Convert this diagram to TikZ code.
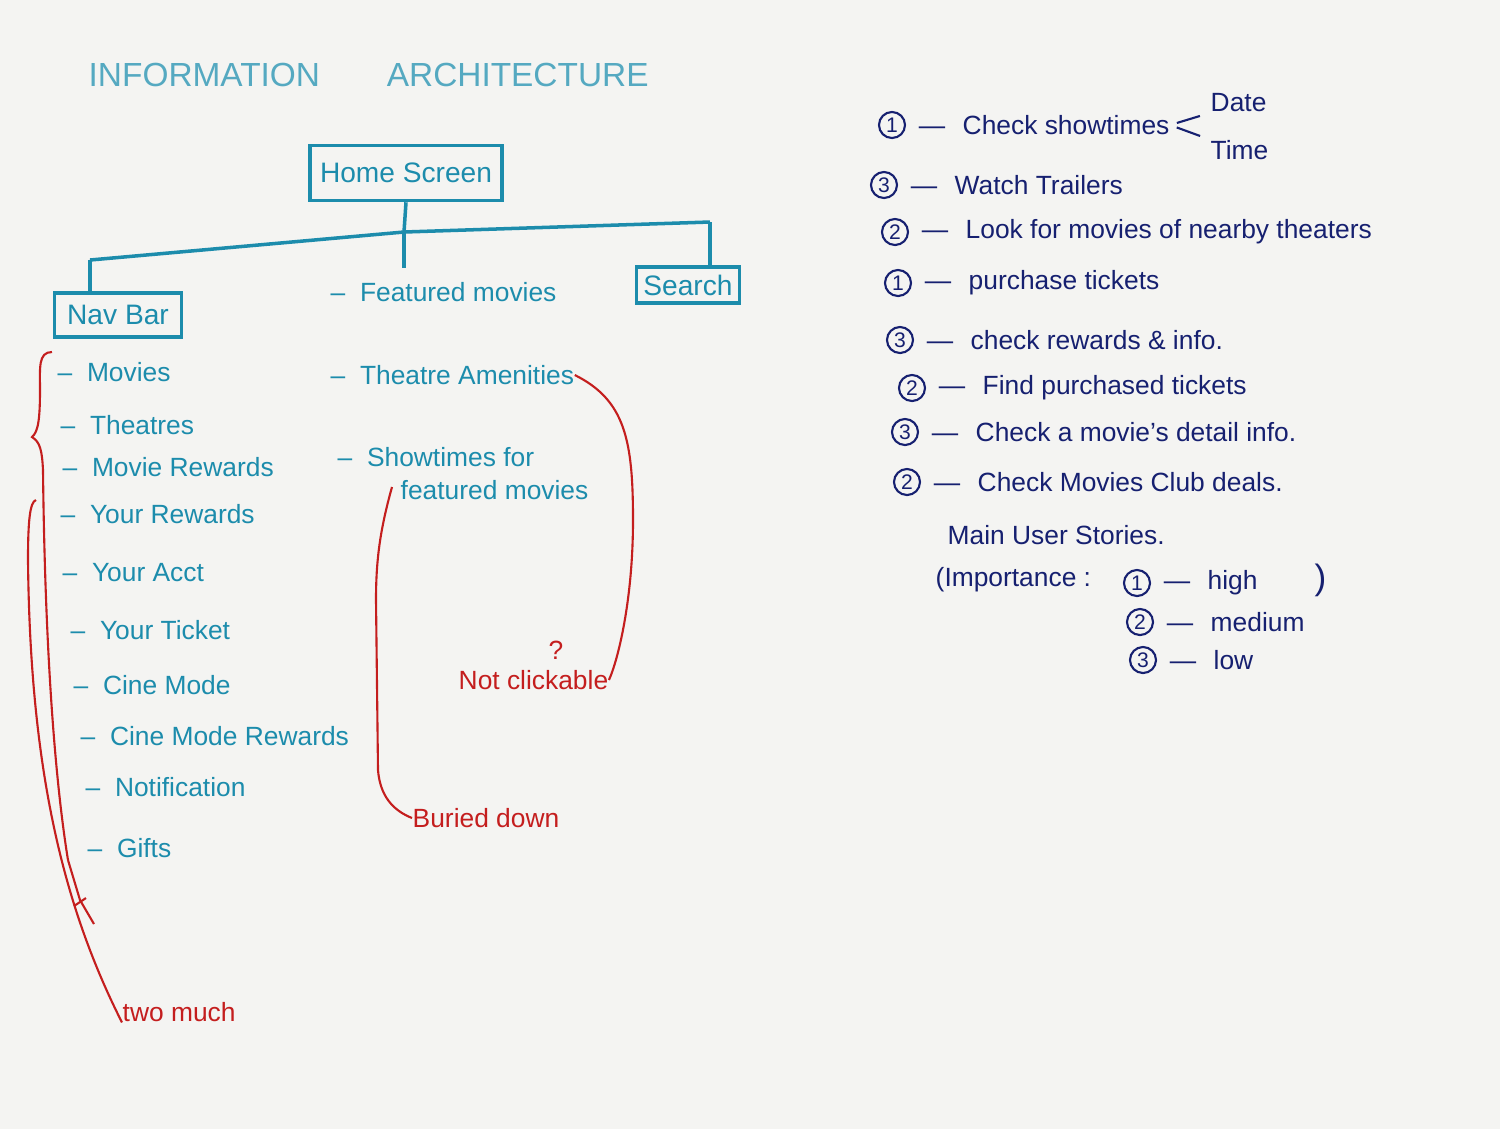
\documentclass[tikz,border=0pt]{standalone}
\usepackage{fontspec}
\setmainfont{Liberation Sans}
\usetikzlibrary{positioning}
\definecolor{inkteal}{RGB}{28,140,172}
\definecolor{inkred}{RGB}{196,30,30}
\definecolor{inknavy}{RGB}{22,32,112}
\definecolor{paperbg}{RGB}{244,244,242}

\begin{document}
\begin{tikzpicture}[x=0.01cm, y=-0.01cm,
    box/.style={draw=inkteal, line width=1pt, text=inkteal, inner sep=0pt, font=\fontsize{8}{9}\selectfont},
    item/.style={anchor=west, inner sep=0pt, text=inkteal, font=\fontsize{7.5}{9}\selectfont},
    remark/.style={anchor=west, inner sep=0pt, text=inkred, font=\fontsize{7.5}{9}\selectfont},
    num/.style={circle, draw=inknavy, line width=0.6pt, text=inknavy, inner sep=0pt, minimum size=0.26cm, font=\fontsize{6}{6}\selectfont},
    story/.style={anchor=west, inner sep=0pt, text=inknavy, font=\fontsize{7.5}{9}\selectfont},
    treeline/.style={inkteal, line width=1pt},
    redline/.style={inkred, line width=0.6pt},
    navyline/.style={inknavy, line width=0.6pt}]
\fill[paperbg] (0,0) rectangle (1500,1129);

% title
\node[anchor=west, inner sep=0pt, text=inkteal!75, font=\fontsize{9.5}{10}\selectfont] (title) at (88,75) {INFORMATION\hspace{19pt}ARCHITECTURE};

% tree
\node[box, minimum width=1.92cm, minimum height=0.55cm] (home) at (406,173) {Home Screen};
\node[box, minimum width=1.27cm, minimum height=0.44cm] (navbar) at (118,315) {Nav Bar};
\node[box, minimum width=1.03cm, minimum height=0.36cm] (search) at (688,285) {Search};
\node[item] (feat) at (330,292) {--~~Featured movies};
\coordinate (barL) at (90,260);
\coordinate (barM) at (404,232);
\coordinate (barR) at (710,222);
\draw[treeline] (home.south) -- (barM);
\draw[treeline, shorten >=4pt] (barM) -- (barM |- feat.north);
\draw[treeline] (barL) -- (barM) -- (barR);
\draw[treeline] (barL) -- (barL |- navbar.north);
\draw[treeline] (barR) -- (barR |- search.north);

% nav bar items
\foreach \x/\y/\t/\n in {57/372/Movies/movies, 60/425/Theatres/theatres, 62/467/Movie Rewards/mrewards,
    60/514/Your Rewards/yrewards, 62/573/Your Acct/acct, 70/630/Your Ticket/ticket, 73/685/Cine Mode/cine,
    80/736/Cine Mode Rewards/crewards, 85/787/Notification/notif, 87/848/Gifts/gifts}
  \node[item] (\n) at (\x,\y) {--~~\t};

% featured items
\node[item] (amen) at (330,375) {--~~Theatre Amenities};
\node[item] (show) at (337,457) {--~~Showtimes for};
\node[item] (show2) at (400,490) {featured movies};

% red remarks
\node[remark] (much) at (122,1012) {two much};
\node[remark] (notclick) at (458,680) {Not clickable};
\node[remark] (quest) at (548,650) {?};
\node[remark] (buried) at (412,818) {Buried down};
\coordinate (braceTop) at (52,352);
\coordinate (longTop) at (36,500);
\coordinate (scrib) at (68,860);
\coordinate (buryTop) at (392,487);
\draw[redline] (braceTop) .. controls (38,352) and (40,368) .. (40,390)
  .. controls (40,420) and (38,432) .. (32,437)
  .. controls (40,442) and (42,450) .. (43,470)
  .. controls (45,650) and (55,780) .. (scrib);
\draw[redline] (scrib) -- (80,900) -- (94,924);
\draw[redline] (74,906) -- (86,898);
\draw[redline] (longTop) .. controls (30,502) and (28,520) .. (28,560)
  .. controls (30,760) and (60,900) .. (much.south west);
\draw[redline] (amen.east) .. controls (625,400) and (633,440) .. (633,520)
  .. controls (633,600) and (618,660) .. (notclick.east);
\draw[redline] (buryTop) .. controls (380,530) and (376,560) .. (376,600) -- (378,770)
  .. controls (380,795) and (392,810) .. (buried.west);

% user stories
\foreach \cx/\cy/\k/\t/\n in {892/125/1/Check showtimes/s1, 884/185/3/Watch Trailers/s2,
    895/232/2/Look for movies of nearby theaters/s3, 898/283/1/purchase tickets/s4,
    900/340/3/check rewards \& info./s5, 912/388/2/Find purchased tickets/s6,
    905/432/3/Check a movie's detail info./s7, 907/482/2/Check Movies Club deals./s8}
{
  \node[num] (\n n) at (\cx,\cy) {\k};
  \node[story, right=0.12cm of \n n] (\n) {\textemdash\hspace{5pt}\t};
}
\node[story] (date) at (1210,103) {Date};
\node[story] (time) at (1210,150) {Time};
\draw[navyline, shorten <=2pt, shorten >=3pt] (s1.east) -- (date.south west);
\draw[navyline, shorten <=2pt, shorten >=3pt] (s1.east) -- (time.north west);

% legend
\node[story] (mus) at (947,535) {Main User Stories.};
\node[story] (imp) at (935,580) {(Importance :};
\node[num] (l1) at (1137,583) {1};
\node[story, right=0.12cm of l1] (high) {\textemdash\hspace{5pt}high};
\node[story, font=\fontsize{10}{10}\selectfont] (rpar) at (1314,580) {)};
\node[num] (l2) at (1140,622) {2};
\node[story, right=0.12cm of l2] (medium) {\textemdash\hspace{5pt}medium};
\node[num] (l3) at (1143,660) {3};
\node[story, right=0.12cm of l3] (low) {\textemdash\hspace{5pt}low};
\end{tikzpicture}
\end{document}
